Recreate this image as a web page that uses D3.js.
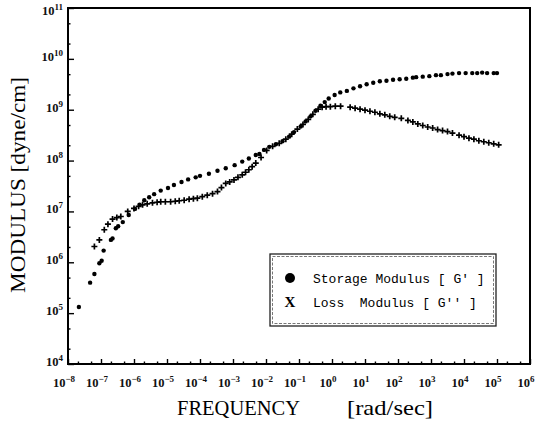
<!DOCTYPE html>
<html><head><meta charset="utf-8">
<script src="https://cdn.jsdelivr.net/npm/d3@7"></script>
<style>body{margin:0;background:#fff}svg{display:block}</style>
</head><body><svg id="c" width="543" height="436"></svg>
<script>
// Storage modulus G' : log10(frequency rad/s), log10(modulus dyne/cm2)
const storageLogFreq = [-7.67,-7.33,-7.20,-7.05,-6.98,-6.92,-6.70,-6.65,-6.55,-6.48,-6.34,-6.16,-5.97,-5.83,-5.69,-5.54,-5.39,-5.19,-4.97,-4.79,-4.56,-4.36,-4.13,-4.00,-3.73,-3.47,-3.22,-2.95,-2.72,-2.52,-2.31,-2.20,-2.06,-1.90,-1.70,-1.50,-1.30,-1.15,-0.95,-0.80,-0.65,-0.50,-0.35,-0.22,-0.10,0.08,0.25,0.45,0.65,0.85,1.05,1.25,1.45,1.65,1.85,2.05,2.25,2.45,2.55,2.75,2.95,3.15,3.30,3.50,3.65,3.85,4.05,4.25,4.40,4.55,4.70,4.90,5.00];
const storageLogModulus = [5.12,5.60,5.77,5.98,6.03,6.23,6.44,6.47,6.67,6.71,6.79,6.93,7.05,7.13,7.22,7.28,7.34,7.41,7.46,7.52,7.58,7.63,7.67,7.70,7.74,7.80,7.85,7.91,7.98,8.04,8.11,8.13,8.21,8.27,8.32,8.38,8.47,8.56,8.67,8.77,8.87,8.98,9.08,9.15,9.22,9.29,9.34,9.37,9.42,9.46,9.50,9.53,9.56,9.57,9.59,9.60,9.61,9.63,9.64,9.65,9.66,9.68,9.68,9.70,9.71,9.72,9.72,9.72,9.72,9.73,9.72,9.72,9.72];
// Loss modulus G''
const lossLogFreq = [-7.20,-7.05,-6.90,-6.79,-6.65,-6.52,-6.40,-6.19,-6.00,-5.86,-5.74,-5.60,-5.44,-5.30,-5.19,-5.05,-4.89,-4.75,-4.63,-4.48,-4.33,-4.20,-4.08,-3.93,-3.78,-3.62,-3.47,-3.35,-3.22,-3.10,-2.97,-2.85,-2.72,-2.62,-2.52,-2.42,-2.31,-2.15,-1.98,-1.80,-1.60,-1.40,-1.22,-1.05,-0.88,-0.72,-0.58,-0.42,-0.30,-0.18,-0.05,0.10,0.26,0.55,0.70,0.85,1.00,1.15,1.30,1.45,1.60,1.75,1.90,2.10,2.30,2.45,2.60,2.75,2.90,3.05,3.20,3.35,3.50,3.65,3.85,4.00,4.15,4.30,4.45,4.60,4.75,4.90,5.05];
const lossLogModulus = [6.31,6.44,6.64,6.75,6.85,6.88,6.90,7.00,7.06,7.10,7.13,7.15,7.17,7.18,7.19,7.19,7.19,7.20,7.21,7.22,7.24,7.25,7.26,7.29,7.32,7.35,7.39,7.47,7.55,7.58,7.62,7.67,7.72,7.77,7.82,7.88,7.95,8.06,8.20,8.28,8.34,8.42,8.52,8.62,8.71,8.81,8.91,9.01,9.05,9.06,9.06,9.07,9.07,9.05,9.03,9.01,8.99,8.97,8.95,8.92,8.90,8.87,8.85,8.83,8.79,8.76,8.72,8.69,8.66,8.64,8.61,8.59,8.57,8.54,8.50,8.47,8.44,8.42,8.39,8.37,8.35,8.33,8.31];
const xTickExponents = [-8,-7,-6,-5,-4,-3,-2,-1,0,1,2,3,4,5,6];
const yTickExponents = [4,5,6,7,8,9,10,11];
const legendLabels = ["Storage Modulus [ G' ]", "Loss  Modulus [ G'' ]"];
const xTitle = ["FREQUENCY", "[rad/sec]"];
const yTitle = "MODULUS [dyne/cm]";

const svg = d3.select('#c');
const L = 68, R = 530, T = 8, B = 364;
const x = d3.scaleLog().domain([1e-8, 1e6]).range([L, R]);
const y = d3.scaleLog().domain([1e4, 1e11]).range([B, T]);

const majorX = xTickExponents.map(e => Math.pow(10, e));
const minorX = xTickExponents.slice(0, -1).flatMap(e => [2, 5].map(m => m * Math.pow(10, e)));
const majorY = yTickExponents.map(e => Math.pow(10, e));
const minorY = yTickExponents.slice(0, -1).flatMap(e => [2, 5].map(m => m * Math.pow(10, e)));

function styleAxis(g) { g.select('.domain').remove(); g.selectAll('line').attr('stroke', '#000').attr('stroke-width', 1.4); g.selectAll('text').remove(); }

svg.append('g').attr('transform', `translate(0,${B})`).call(d3.axisBottom(x).tickValues(majorX).tickSize(-5).tickFormat('')).call(styleAxis);
svg.append('g').attr('transform', `translate(0,${B})`).call(d3.axisBottom(x).tickValues(minorX).tickSize(-2.5).tickFormat('')).call(styleAxis);
svg.append('g').attr('transform', `translate(${L},0)`).call(d3.axisLeft(y).tickValues(majorY).tickSize(-6).tickFormat('')).call(styleAxis);
svg.append('g').attr('transform', `translate(${L},0)`).call(d3.axisLeft(y).tickValues(minorY).tickSize(-2.5).tickFormat('')).call(styleAxis);

svg.append('rect').attr('x', L).attr('y', T).attr('width', R - L).attr('height', B - T)
  .attr('fill', 'none').attr('stroke', '#000').attr('stroke-width', 2);

const lblFont = "'Liberation Serif', serif";
// x tick labels
xTickExponents.forEach(e => {
  const t = svg.append('text').attr('x', x(Math.pow(10, e)) - 4).attr('y', 387)
    .attr('text-anchor', 'middle').attr('font-family', lblFont).attr('font-size', 12.5).attr('font-weight', 'bold').attr('fill', '#111');
  t.append('tspan').text('10');
  t.append('tspan').attr('dy', -5).attr('font-size', 9).text(e < 0 ? '\u2212' + (-e) : e);
});
// y tick labels
yTickExponents.forEach(e => {
  const t = svg.append('text').attr('x', 63).attr('y', Math.max(y(Math.pow(10, e)) + 2, 15))
    .attr('text-anchor', 'end').attr('font-family', lblFont).attr('font-size', 12.5).attr('font-weight', 'bold').attr('fill', '#111');
  t.append('tspan').text('10');
  t.append('tspan').attr('dy', -5).attr('font-size', 9).text(e);
});

// titles
svg.append('text').attr('x', 177).attr('y', 415).attr('font-family', lblFont).attr('font-size', 20)
  .attr('textLength', 123).attr('lengthAdjust', 'spacingAndGlyphs').text(xTitle[0]);
svg.append('text').attr('x', 347).attr('y', 415).attr('font-family', lblFont).attr('font-size', 22)
  .attr('textLength', 86).attr('lengthAdjust', 'spacingAndGlyphs').text(xTitle[1]);
svg.append('text').attr('transform', 'translate(25,293) rotate(-90)').attr('font-family', lblFont).attr('font-size', 21)
  .attr('textLength', 216).attr('lengthAdjust', 'spacingAndGlyphs').text(yTitle);

// data
const storage = storageLogFreq.map((f, i) => ({ f: Math.pow(10, f), g: Math.pow(10, storageLogModulus[i]) }));
const loss = lossLogFreq.map((f, i) => ({ f: Math.pow(10, f), g: Math.pow(10, lossLogModulus[i]) }));

svg.append('g').selectAll('path').data(loss).join('path')
  .attr('transform', d => `translate(${x(d.f)},${y(d.g)})`)
  .attr('d', 'M-3,0H3M0,-3V3').attr('stroke', '#000').attr('stroke-width', 1.7).attr('fill', 'none');
svg.append('g').selectAll('circle').data(storage).join('circle')
  .attr('cx', d => x(d.f)).attr('cy', d => y(d.g)).attr('r', 2.2).attr('fill', '#000');

// legend
const lg = svg.append('g');
lg.append('rect').attr('x', 270).attr('y', 254).attr('width', 226).attr('height', 72)
  .attr('fill', '#fff').attr('stroke', '#222').attr('stroke-width', 1.3);
lg.append('rect').attr('x', 272.5).attr('y', 256.5).attr('width', 221).attr('height', 67)
  .attr('fill', 'none').attr('stroke', '#777').attr('stroke-width', 1).attr('stroke-dasharray', '3,1.5');
lg.append('circle').attr('cx', 290).attr('cy', 278).attr('r', 5).attr('fill', '#000');
lg.append('text').attr('x', 290).attr('y', 307).attr('text-anchor', 'middle').attr('font-family', lblFont)
  .attr('font-size', 15).attr('font-weight', 'bold').text('X');
lg.selectAll('text.lab').data(legendLabels).join('text').attr('class', 'lab')
  .attr('x', 313).attr('y', (d, i) => 283 + i * 24).attr('font-family', "'Liberation Mono', monospace")
  .attr('font-size', 13).attr('fill', '#000').attr('xml:space', 'preserve').style('white-space', 'pre').text(d => d);
</script></body></html>
